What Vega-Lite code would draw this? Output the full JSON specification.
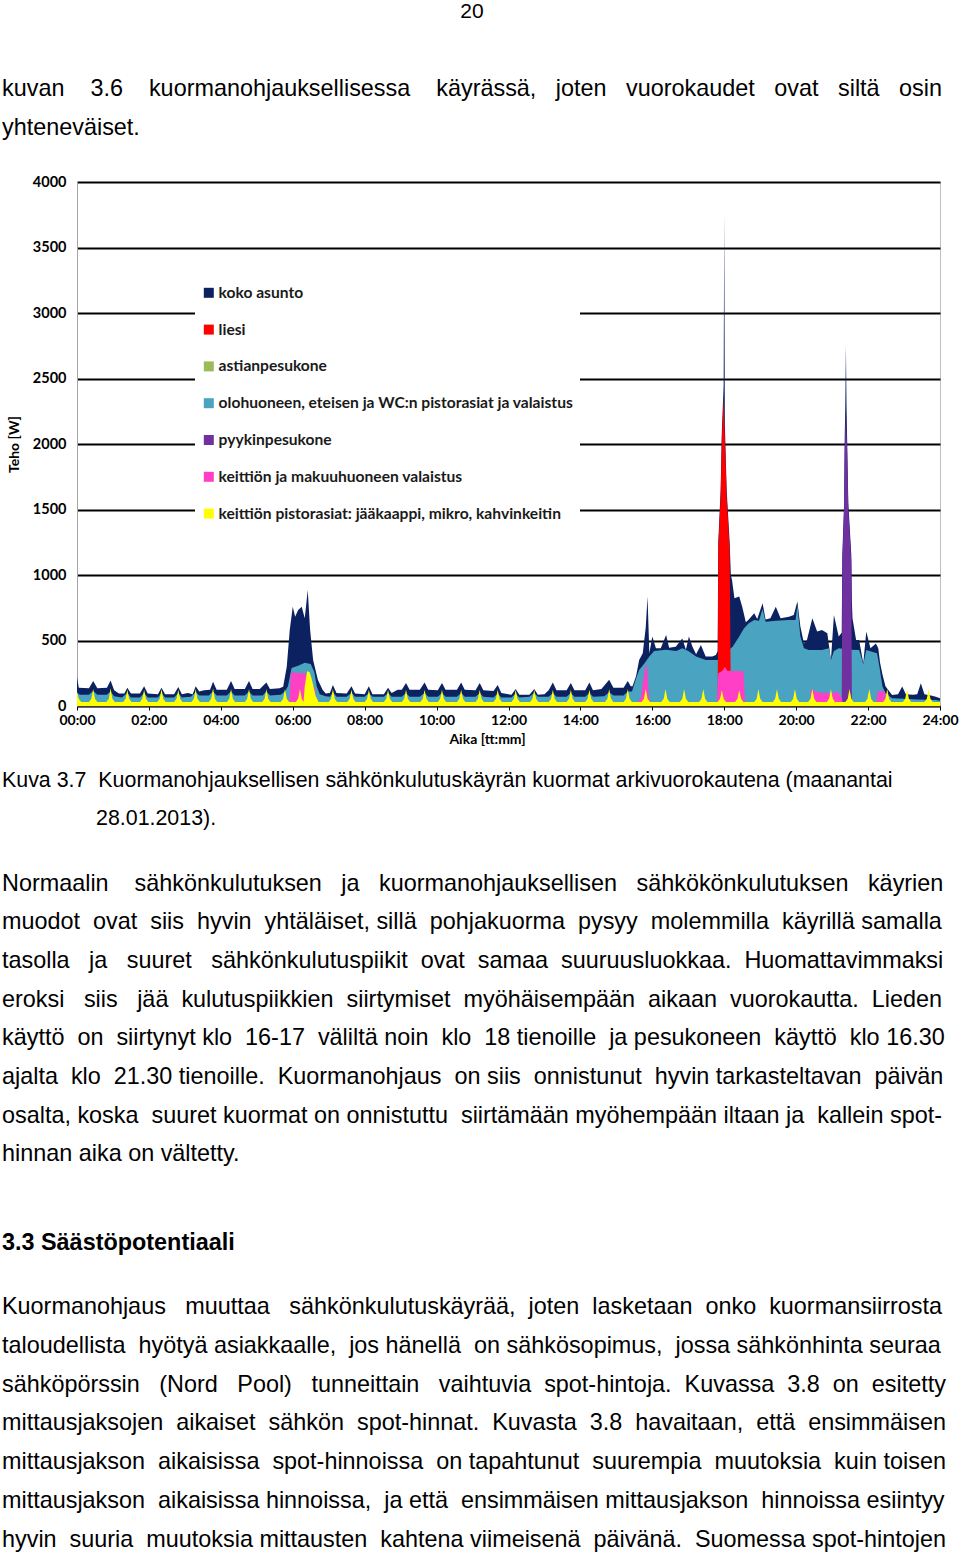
{
  "$schema": "https://vega.github.io/schema/vega-lite/v6.json",
  "padding": {"left": 2, "top": 0, "right": 0, "bottom": 0},
  "spacing": 0,
  "background": "white",
  "config": {"view": {"stroke": null}, "font": "Liberation Sans"},
  "datasets": {
    "toptext": [
      {"line": 0, "role": "page", "text": "20"},
      {"line": 2, "role": "body", "text": "kuvan \u00a0\u00a0\u00a03.6 \u00a0\u00a0\u00a0kuormanohjauksellisessa \u00a0\u00a0\u00a0käyrässä, \u00a0\u00a0joten \u00a0\u00a0vuorokaudet \u00a0\u00a0ovat \u00a0\u00a0siltä \u00a0\u00a0osin"},
      {"line": 3, "role": "body", "text": "yhteneväiset."}
    ],
    "bottomtext": [
      {"line": 0, "role": "caption", "text": "Kuva 3.7\u00a0 Kuormanohjauksellisen sähkönkulutuskäyrän kuormat arkivuorokautena (maanantai"},
      {"line": 0.98, "role": "caption2", "text": "28.01.2013)."},
      {"line": 2.65, "role": "body", "text": "Normaalin \u00a0\u00a0\u00a0sähkönkulutuksen \u00a0\u00a0ja \u00a0\u00a0kuormanohjauksellisen \u00a0\u00a0sähkökönkulutuksen \u00a0\u00a0käyrien"},
      {"line": 3.65, "role": "body", "text": "muodot \u00a0ovat \u00a0siis \u00a0hyvin \u00a0yhtäläiset, sillä \u00a0pohjakuorma \u00a0pysyy \u00a0molemmilla \u00a0käyrillä samalla"},
      {"line": 4.65, "role": "body", "text": "tasolla \u00a0\u00a0ja \u00a0\u00a0suuret \u00a0\u00a0sähkönkulutuspiikit \u00a0ovat \u00a0samaa \u00a0suuruusluokkaa. \u00a0Huomattavimmaksi"},
      {"line": 5.65, "role": "body", "text": "eroksi \u00a0\u00a0siis \u00a0\u00a0jää \u00a0kulutuspiikkien \u00a0siirtymiset \u00a0myöhäisempään \u00a0aikaan \u00a0vuorokautta. \u00a0Lieden"},
      {"line": 6.65, "role": "body", "text": "käyttö \u00a0on \u00a0siirtynyt klo \u00a016-17 \u00a0väliltä noin \u00a0klo \u00a018 tienoille \u00a0ja pesukoneen \u00a0käyttö \u00a0klo 16.30"},
      {"line": 7.65, "role": "body", "text": "ajalta \u00a0klo \u00a021.30 tienoille. \u00a0Kuormanohjaus \u00a0on siis \u00a0onnistunut \u00a0hyvin tarkasteltavan \u00a0päivän"},
      {"line": 8.65, "role": "body", "text": "osalta, koska \u00a0suuret kuormat on onnistuttu \u00a0siirtämään myöhempään iltaan ja \u00a0kallein spot-"},
      {"line": 9.65, "role": "body", "text": "hinnan aika on vältetty."},
      {"line": 11.95, "role": "heading", "text": "3.3 Säästöpotentiaali"},
      {"line": 13.6, "role": "body", "text": "Kuormanohjaus \u00a0\u00a0muuttaa \u00a0\u00a0sähkönkulutuskäyrää, \u00a0joten \u00a0lasketaan \u00a0onko \u00a0kuormansiirrosta"},
      {"line": 14.6, "role": "body", "text": "taloudellista \u00a0hyötyä asiakkaalle, \u00a0jos hänellä \u00a0on sähkösopimus, \u00a0jossa sähkönhinta seuraa"},
      {"line": 15.6, "role": "body", "text": "sähköpörssin \u00a0\u00a0(Nord \u00a0\u00a0Pool) \u00a0\u00a0tunneittain \u00a0\u00a0vaihtuvia \u00a0spot-hintoja. \u00a0Kuvassa \u00a03.8 \u00a0on \u00a0esitetty"},
      {"line": 16.6, "role": "body", "text": "mittausjaksojen \u00a0aikaiset \u00a0sähkön \u00a0spot-hinnat. \u00a0Kuvasta \u00a03.8 \u00a0havaitaan, \u00a0että \u00a0ensimmäisen"},
      {"line": 17.6, "role": "body", "text": "mittausjakson \u00a0aikaisissa \u00a0spot-hinnoissa \u00a0on tapahtunut \u00a0suurempia \u00a0muutoksia \u00a0kuin toisen"},
      {"line": 18.6, "role": "body", "text": "mittausjakson \u00a0aikaisissa hinnoissa, \u00a0ja että \u00a0ensimmäisen mittausjakson \u00a0hinnoissa esiintyy"},
      {"line": 19.6, "role": "body", "text": "hyvin \u00a0suuria \u00a0muutoksia mittausten \u00a0kahtena viimeisenä \u00a0päivänä. \u00a0Suomessa spot-hintojen"}
    ],
    "koko": [
      {"m":0,"w":220},{"m":3,"w":140},{"m":20,"w":135},{"m":27,"w":190},{"m":34,"w":135},{"m":50,"w":140},{"m":56,"w":195},{"m":62,"w":120},{"m":70,"w":95},{"m":79,"w":95},{"m":84,"w":140},{"m":90,"w":95},{"m":105,"w":95},{"m":112,"w":150},{"m":118,"w":95},{"m":135,"w":90},{"m":141,"w":140},{"m":147,"w":90},{"m":162,"w":90},{"m":169,"w":145},{"m":175,"w":90},{"m":185,"w":100},{"m":193,"w":90},{"m":198,"w":150},{"m":204,"w":110},{"m":212,"w":120},{"m":222,"w":125},{"m":227,"w":185},{"m":233,"w":125},{"m":250,"w":125},{"m":257,"w":190},{"m":263,"w":130},{"m":280,"w":130},{"m":287,"w":190},{"m":293,"w":130},{"m":305,"w":130},{"m":316,"w":180},{"m":322,"w":130},{"m":338,"w":135},{"m":344,"w":147},{"m":350,"w":300},{"m":355,"w":580},{"m":360,"w":758},{"m":364,"w":682},{"m":369,"w":733},{"m":375,"w":758},{"m":380,"w":670},{"m":385,"w":885},{"m":389,"w":580},{"m":394,"w":351},{"m":402,"w":198},{"m":410,"w":122},{"m":415,"w":95},{"m":422,"w":100},{"m":427,"w":160},{"m":433,"w":100},{"m":450,"w":95},{"m":458,"w":150},{"m":464,"w":95},{"m":480,"w":90},{"m":487,"w":150},{"m":493,"w":90},{"m":512,"w":90},{"m":519,"w":140},{"m":525,"w":100},{"m":535,"w":125},{"m":542,"w":125},{"m":549,"w":175},{"m":555,"w":125},{"m":572,"w":125},{"m":580,"w":180},{"m":586,"w":125},{"m":602,"w":120},{"m":609,"w":175},{"m":615,"w":125},{"m":634,"w":125},{"m":641,"w":180},{"m":647,"w":125},{"m":665,"w":120},{"m":672,"w":175},{"m":678,"w":120},{"m":695,"w":115},{"m":702,"w":160},{"m":708,"w":100},{"m":725,"w":85},{"m":732,"w":130},{"m":738,"w":85},{"m":755,"w":85},{"m":763,"w":130},{"m":769,"w":85},{"m":780,"w":90},{"m":787,"w":120},{"m":794,"w":180},{"m":800,"w":120},{"m":817,"w":120},{"m":824,"w":175},{"m":830,"w":120},{"m":848,"w":120},{"m":855,"w":180},{"m":861,"w":120},{"m":875,"w":130},{"m":888,"w":200},{"m":895,"w":140},{"m":912,"w":140},{"m":919,"w":190},{"m":924,"w":150},{"m":927,"w":150},{"m":933,"w":230},{"m":938,"w":351},{"m":944,"w":402},{"m":949,"w":600},{"m":952,"w":835},{"m":955,"w":402},{"m":960,"w":530},{"m":966,"w":440},{"m":974,"w":440},{"m":983,"w":542},{"m":988,"w":445},{"m":999,"w":453},{"m":1010,"w":516},{"m":1016,"w":430},{"m":1021,"w":530},{"m":1027,"w":453},{"m":1033,"w":395},{"m":1041,"w":466},{"m":1049,"w":377},{"m":1060,"w":377},{"m":1066,"w":389},{"m":1069,"w":420},{"m":1070,"w":1250},{"m":1074,"w":1650},{"m":1076,"w":2100},{"m":1079,"w":2450},{"m":1080,"w":3760},{"m":1081,"w":2150},{"m":1084,"w":1650},{"m":1089,"w":1250},{"m":1091,"w":1000},{"m":1093,"w":960},{"m":1097,"w":822},{"m":1105,"w":835},{"m":1110,"w":758},{"m":1116,"w":640},{"m":1121,"w":660},{"m":1130,"w":708},{"m":1135,"w":665},{"m":1144,"w":784},{"m":1149,"w":660},{"m":1157,"w":670},{"m":1166,"w":758},{"m":1174,"w":670},{"m":1188,"w":682},{"m":1196,"w":695},{"m":1202,"w":797},{"m":1207,"w":606},{"m":1213,"w":478},{"m":1218,"w":504},{"m":1227,"w":670},{"m":1235,"w":568},{"m":1243,"w":580},{"m":1252,"w":555},{"m":1255,"w":453},{"m":1258,"w":351},{"m":1263,"w":695},{"m":1271,"w":530},{"m":1276,"w":560},{"m":1277,"w":1150},{"m":1280,"w":1550},{"m":1281,"w":2050},{"m":1282,"w":2300},{"m":1283,"w":2750},{"m":1284,"w":2300},{"m":1285,"w":2050},{"m":1287,"w":1550},{"m":1292,"w":1150},{"m":1293,"w":800},{"m":1294,"w":670},{"m":1300,"w":504},{"m":1305,"w":504},{"m":1312,"w":326},{"m":1317,"w":568},{"m":1324,"w":440},{"m":1333,"w":478},{"m":1337,"w":440},{"m":1340,"w":330},{"m":1344,"w":240},{"m":1349,"w":150},{"m":1360,"w":84},{"m":1370,"w":90},{"m":1377,"w":148},{"m":1383,"w":90},{"m":1395,"w":85},{"m":1402,"w":90},{"m":1408,"w":173},{"m":1414,"w":90},{"m":1425,"w":80},{"m":1433,"w":71},{"m":1440,"w":60}
    ],
    "olohuone": [
      {"m":0,"w":100},{"m":5,"w":85},{"m":20,"w":85},{"m":27,"w":115},{"m":34,"w":85},{"m":50,"w":85},{"m":56,"w":110},{"m":62,"w":75},{"m":75,"w":65},{"m":84,"w":100},{"m":90,"w":65},{"m":105,"w":65},{"m":112,"w":100},{"m":118,"w":65},{"m":135,"w":65},{"m":141,"w":100},{"m":147,"w":65},{"m":162,"w":65},{"m":169,"w":100},{"m":175,"w":65},{"m":190,"w":70},{"m":198,"w":105},{"m":204,"w":80},{"m":220,"w":80},{"m":227,"w":110},{"m":233,"w":80},{"m":250,"w":80},{"m":257,"w":110},{"m":263,"w":80},{"m":280,"w":80},{"m":287,"w":110},{"m":293,"w":80},{"m":310,"w":80},{"m":316,"w":110},{"m":322,"w":80},{"m":340,"w":85},{"m":347,"w":110},{"m":352,"w":150},{"m":358,"w":290},{"m":370,"w":310},{"m":380,"w":330},{"m":390,"w":320},{"m":396,"w":260},{"m":400,"w":150},{"m":405,"w":90},{"m":415,"w":75},{"m":422,"w":70},{"m":427,"w":105},{"m":433,"w":70},{"m":450,"w":70},{"m":458,"w":100},{"m":464,"w":70},{"m":480,"w":70},{"m":487,"w":100},{"m":493,"w":70},{"m":512,"w":70},{"m":519,"w":100},{"m":525,"w":70},{"m":542,"w":70},{"m":549,"w":100},{"m":555,"w":70},{"m":572,"w":70},{"m":580,"w":100},{"m":586,"w":70},{"m":602,"w":70},{"m":609,"w":100},{"m":615,"w":70},{"m":634,"w":70},{"m":641,"w":100},{"m":647,"w":70},{"m":665,"w":70},{"m":672,"w":100},{"m":678,"w":70},{"m":695,"w":65},{"m":702,"w":95},{"m":708,"w":65},{"m":725,"w":65},{"m":732,"w":95},{"m":738,"w":65},{"m":755,"w":70},{"m":763,"w":100},{"m":769,"w":70},{"m":787,"w":70},{"m":794,"w":100},{"m":800,"w":70},{"m":817,"w":70},{"m":824,"w":100},{"m":830,"w":70},{"m":848,"w":70},{"m":855,"w":100},{"m":861,"w":70},{"m":880,"w":75},{"m":888,"w":105},{"m":895,"w":80},{"m":912,"w":80},{"m":919,"w":110},{"m":926,"w":110},{"m":933,"w":211},{"m":938,"w":275},{"m":947,"w":326},{"m":955,"w":377},{"m":963,"w":420},{"m":975,"w":425},{"m":983,"w":430},{"m":1000,"w":420},{"m":1010,"w":440},{"m":1020,"w":420},{"m":1033,"w":377},{"m":1049,"w":351},{"m":1069,"w":351},{"m":1080,"w":400},{"m":1094,"w":453},{"m":1105,"w":530},{"m":1113,"w":593},{"m":1121,"w":631},{"m":1130,"w":657},{"m":1138,"w":650},{"m":1144,"w":740},{"m":1149,"w":644},{"m":1166,"w":650},{"m":1188,"w":657},{"m":1199,"w":657},{"m":1202,"w":770},{"m":1207,"w":530},{"m":1213,"w":440},{"m":1221,"w":428},{"m":1243,"w":428},{"m":1255,"w":440},{"m":1258,"w":351},{"m":1263,"w":420},{"m":1271,"w":440},{"m":1290,"w":430},{"m":1305,"w":428},{"m":1312,"w":320},{"m":1317,"w":428},{"m":1335,"w":402},{"m":1339,"w":300},{"m":1341,"w":236},{"m":1344,"w":148},{"m":1349,"w":97},{"m":1360,"w":59},{"m":1380,"w":55},{"m":1400,"w":50},{"m":1433,"w":46},{"m":1440,"w":40}
    ],
    "liesi": [
      {"m":1069,"w":0},{"m":1070,"w":1200},{"m":1074,"w":1600},{"m":1076,"w":2050},{"m":1079,"w":2350},{"m":1081,"w":2050},{"m":1084,"w":1600},{"m":1089,"w":1200},{"m":1091,"w":0}
    ],
    "pyykki": [
      {"m":1276,"w":0},{"m":1277,"w":1100},{"m":1280,"w":1500},{"m":1281,"w":1950},{"m":1283,"w":2250},{"m":1285,"w":1950},{"m":1287,"w":1500},{"m":1292,"w":1100},{"m":1293,"w":0}
    ],
    "valaistus": [
      {"m":354,"w":0},{"m":357,"w":255},{"m":381,"w":250},{"m":392,"w":150},{"m":397,"w":140},{"m":400,"w":0},
      {"m":933,"w":0},{"m":941,"w":70},{"m":948,"w":300},{"m":951,"w":320},{"m":954,"w":80},{"m":958,"w":0},
      {"m":1067,"w":0},{"m":1070,"w":250},{"m":1077,"w":270},{"m":1081,"w":300},{"m":1085,"w":270},{"m":1112,"w":265},{"m":1115,"w":0},
      {"m":1222,"w":0},{"m":1225,"w":130},{"m":1232,"w":110},{"m":1245,"w":100},{"m":1262,"w":100},{"m":1270,"w":110},{"m":1276,"w":60},{"m":1279,"w":0},
      {"m":1333,"w":0},{"m":1336,"w":110},{"m":1348,"w":115},{"m":1351,"w":0}
    ],
    "pistorasiat": [
      {"m":0,"w":110},{"m":3,"w":55},{"m":7,"w":30},
      {"m":20,"w":30},{"m":24,"w":55},{"m":27,"w":130},{"m":30,"w":55},{"m":34,"w":30},
      {"m":49,"w":30},{"m":53,"w":55},{"m":56,"w":135},{"m":59,"w":55},{"m":63,"w":30},
      {"m":77,"w":30},{"m":81,"w":55},{"m":84,"w":125},{"m":87,"w":55},{"m":91,"w":30},
      {"m":105,"w":30},{"m":109,"w":55},{"m":112,"w":125},{"m":115,"w":55},{"m":119,"w":30},
      {"m":134,"w":30},{"m":138,"w":55},{"m":141,"w":130},{"m":144,"w":55},{"m":148,"w":30},
      {"m":162,"w":30},{"m":166,"w":55},{"m":169,"w":125},{"m":172,"w":55},{"m":176,"w":30},
      {"m":191,"w":30},{"m":195,"w":55},{"m":198,"w":130},{"m":201,"w":55},{"m":205,"w":30},
      {"m":220,"w":30},{"m":224,"w":55},{"m":227,"w":135},{"m":230,"w":55},{"m":234,"w":30},
      {"m":250,"w":30},{"m":254,"w":55},{"m":257,"w":130},{"m":260,"w":55},{"m":264,"w":30},
      {"m":280,"w":30},{"m":284,"w":55},{"m":287,"w":130},{"m":290,"w":55},{"m":294,"w":30},
      {"m":309,"w":30},{"m":313,"w":55},{"m":316,"w":130},{"m":319,"w":55},{"m":323,"w":30},
      {"m":340,"w":30},{"m":344,"w":55},{"m":347,"w":130},{"m":350,"w":55},{"m":354,"w":30},
      {"m":365,"w":30},{"m":369,"w":55},{"m":372,"w":130},{"m":375,"w":55},{"m":378,"w":30},
      {"m":380,"w":150},{"m":384,"w":265},{"m":388,"w":260},{"m":392,"w":200},{"m":398,"w":80},{"m":403,"w":30},
      {"m":420,"w":30},{"m":424,"w":55},{"m":427,"w":130},{"m":430,"w":55},{"m":434,"w":30},
      {"m":451,"w":30},{"m":455,"w":55},{"m":458,"w":125},{"m":461,"w":55},{"m":465,"w":30},
      {"m":480,"w":30},{"m":484,"w":55},{"m":487,"w":125},{"m":490,"w":55},{"m":494,"w":30},
      {"m":512,"w":30},{"m":516,"w":55},{"m":519,"w":125},{"m":522,"w":55},{"m":526,"w":30},
      {"m":542,"w":30},{"m":546,"w":55},{"m":549,"w":125},{"m":552,"w":55},{"m":556,"w":30},
      {"m":573,"w":30},{"m":577,"w":55},{"m":580,"w":125},{"m":583,"w":55},{"m":587,"w":30},
      {"m":602,"w":30},{"m":606,"w":55},{"m":609,"w":125},{"m":612,"w":55},{"m":616,"w":30},
      {"m":634,"w":30},{"m":638,"w":55},{"m":641,"w":125},{"m":644,"w":55},{"m":648,"w":30},
      {"m":665,"w":30},{"m":669,"w":55},{"m":672,"w":125},{"m":675,"w":55},{"m":679,"w":30},
      {"m":695,"w":30},{"m":699,"w":55},{"m":702,"w":125},{"m":705,"w":55},{"m":709,"w":30},
      {"m":725,"w":30},{"m":729,"w":55},{"m":732,"w":125},{"m":735,"w":55},{"m":739,"w":30},
      {"m":756,"w":30},{"m":760,"w":55},{"m":763,"w":125},{"m":766,"w":55},{"m":770,"w":30},
      {"m":787,"w":30},{"m":791,"w":55},{"m":794,"w":125},{"m":797,"w":55},{"m":801,"w":30},
      {"m":817,"w":30},{"m":821,"w":55},{"m":824,"w":125},{"m":827,"w":55},{"m":831,"w":30},
      {"m":848,"w":30},{"m":852,"w":55},{"m":855,"w":125},{"m":858,"w":55},{"m":862,"w":30},
      {"m":881,"w":30},{"m":885,"w":55},{"m":888,"w":130},{"m":891,"w":55},{"m":895,"w":30},
      {"m":912,"w":30},{"m":916,"w":55},{"m":919,"w":130},{"m":922,"w":55},{"m":926,"w":30},
      {"m":942,"w":30},{"m":946,"w":55},{"m":949,"w":130},{"m":952,"w":55},{"m":956,"w":30},
      {"m":975,"w":30},{"m":979,"w":55},{"m":982,"w":130},{"m":985,"w":55},{"m":989,"w":30},
      {"m":1006,"w":30},{"m":1010,"w":55},{"m":1013,"w":130},{"m":1016,"w":55},{"m":1020,"w":30},
      {"m":1038,"w":30},{"m":1042,"w":55},{"m":1045,"w":130},{"m":1048,"w":55},{"m":1052,"w":30},
      {"m":1069,"w":30},{"m":1073,"w":55},{"m":1076,"w":120},{"m":1079,"w":55},{"m":1083,"w":30},
      {"m":1098,"w":30},{"m":1102,"w":55},{"m":1105,"w":120},{"m":1108,"w":55},{"m":1112,"w":30},
      {"m":1130,"w":30},{"m":1134,"w":55},{"m":1137,"w":130},{"m":1140,"w":55},{"m":1144,"w":30},
      {"m":1161,"w":30},{"m":1165,"w":55},{"m":1168,"w":130},{"m":1171,"w":55},{"m":1175,"w":30},
      {"m":1191,"w":30},{"m":1195,"w":55},{"m":1198,"w":130},{"m":1201,"w":55},{"m":1205,"w":30},
      {"m":1220,"w":30},{"m":1224,"w":55},{"m":1227,"w":130},{"m":1230,"w":55},{"m":1234,"w":30},
      {"m":1251,"w":30},{"m":1255,"w":55},{"m":1258,"w":130},{"m":1261,"w":55},{"m":1265,"w":30},
      {"m":1282,"w":30},{"m":1286,"w":55},{"m":1289,"w":130},{"m":1292,"w":55},{"m":1296,"w":30},
      {"m":1315,"w":30},{"m":1319,"w":55},{"m":1322,"w":130},{"m":1325,"w":55},{"m":1329,"w":30},
      {"m":1345,"w":30},{"m":1349,"w":55},{"m":1352,"w":130},{"m":1355,"w":55},{"m":1359,"w":30},
      {"m":1378,"w":30},{"m":1382,"w":55},{"m":1385,"w":130},{"m":1388,"w":55},{"m":1392,"w":30},
      {"m":1414,"w":30},{"m":1418,"w":55},{"m":1421,"w":130},{"m":1424,"w":55},{"m":1428,"w":30},
      {"m":1440,"w":30}
    ]
  },
  "vconcat": [
    {
      "width": 960,
      "height": 171,
      "data": {"name": "toptext"},
      "encoding": {
        "y": {"field": "line", "type": "quantitative", "scale": {"domain": [-0.258, 4.16], "reverse": true, "nice": false, "zero": false}, "axis": null}
      },
      "layer": [
        {
          "transform": [{"filter": "datum.role == 'page'"}],
          "mark": {"type": "text", "align": "center", "baseline": "middle", "font": "Liberation Sans", "fontSize": 21, "color": "#000"},
          "encoding": {
            "x": {"datum": 472, "type": "quantitative", "scale": {"domain": [0, 960], "range": [-77, 883], "nice": false, "zero": false}, "axis": null},
            "text": {"field": "text"}
          }
        },
        {
          "transform": [{"filter": "datum.role == 'body'"}],
          "mark": {"type": "text", "align": "left", "baseline": "middle", "font": "Liberation Sans", "fontSize": 23.4, "color": "#000"},
          "encoding": {
            "x": {"datum": 2, "type": "quantitative"},
            "text": {"field": "text"}
          }
        }
      ]
    },
    {
      "width": 863,
      "height": 524,
      "view": {"stroke": "#bfbfbf", "strokeWidth": 1},
      "layer": [
        {
          "data": {"name": "koko"},
          "mark": {"type": "area", "opacity": 1, "interpolate": "linear"},
          "encoding": {
            "x": {"field": "m", "type": "quantitative", "scale": {"domain": [0, 1440], "nice": false, "zero": false},
              "axis": {"values": [0,60,120,180,240,300,360,420,480,540,600,660,720,780,840,900,960,1020,1080,1140,1200,1260,1320,1380,1440],
                "labelExpr": "datum.value % 120 == 0 ? (datum.value < 600 ? '0' : '') + (datum.value / 60) + ':00' : ''",
                "labelOverlap": false, "labelFlush": false, "grid": false,
                "tickColor": "#000", "tickSize": 4, "tickWidth": 1,
                "domainColor": "#3c3c3c", "domainWidth": 1.5,
                "labelFont": "Lato", "labelFontWeight": "bold", "labelFontSize": 14, "labelColor": "#000", "labelPadding": 3,
                "title": "Aika [tt:mm]", "titleFont": "Lato", "titleFontSize": 14, "titleFontWeight": "bold", "titleColor": "#000", "titlePadding": 5, "titleX": 410}},
            "y": {"field": "w", "type": "quantitative", "stack": null, "scale": {"domain": [0, 4000], "nice": false},
              "axis": {"values": [0,500,1000,1500,2000,2500,3000,3500,4000], "format": "d",
                "grid": true, "gridColor": "#000", "gridWidth": 2, "ticks": false,
                "domainColor": "#a6a6a6", "labelFlush": false,
                "labelFont": "Lato", "labelFontWeight": "bold", "labelFontSize": 14.5, "labelColor": "#000", "labelPadding": 11,
                "minExtent": 46, "maxExtent": 46,
                "title": "Teho [W]", "titleFont": "Lato", "titleFontSize": 14, "titleFontWeight": "bold", "titleColor": "#000", "titlePadding": 10}},
            "color": {"datum": "koko asunto", "type": "nominal",
              "scale": {"domain": ["koko asunto", "liesi", "astianpesukone", "olohuoneen, eteisen ja WC:n pistorasiat ja valaistus", "pyykinpesukone", "keittiön ja makuuhuoneen valaistus", "keittiön pistorasiat: jääkaappi, mikro, kahvinkeitin"],
                "range": ["#0c2160", "#ff0000", "#9bbb59", "#4aa3c0", "#7030a0", "#ff3fc6", "#ffff00"]},
              "legend": {"orient": "none", "legendX": 118, "legendY": 277, "title": null, "symbolType": "square", "symbolSize": 100, "symbolStrokeWidth": 0,
                "labelFont": "Lato", "labelFontWeight": "bold", "labelFontSize": 15.6, "labelColor": "#1a1a1a", "labelLimit": 0, "labelOffset": 2,
                "rowPadding": 19.8, "padding": 6, "fillColor": "white", "direction": "vertical"}}
          }
        },
        {
          "data": {"name": "olohuone"},
          "mark": {"type": "area", "opacity": 1, "interpolate": "linear"},
          "encoding": {
            "x": {"field": "m", "type": "quantitative"},
            "y": {"field": "w", "type": "quantitative", "stack": null},
            "color": {"datum": "olohuoneen, eteisen ja WC:n pistorasiat ja valaistus", "type": "nominal"}
          }
        },
        {
          "data": {"name": "liesi"},
          "mark": {"type": "area", "opacity": 1, "interpolate": "linear"},
          "encoding": {
            "x": {"field": "m", "type": "quantitative"},
            "y": {"field": "w", "type": "quantitative", "stack": null},
            "color": {"datum": "liesi", "type": "nominal"}
          }
        },
        {
          "data": {"name": "pyykki"},
          "mark": {"type": "area", "opacity": 1, "interpolate": "linear"},
          "encoding": {
            "x": {"field": "m", "type": "quantitative"},
            "y": {"field": "w", "type": "quantitative", "stack": null},
            "color": {"datum": "pyykinpesukone", "type": "nominal"}
          }
        },
        {
          "data": {"name": "valaistus"},
          "mark": {"type": "area", "opacity": 1, "interpolate": "linear"},
          "encoding": {
            "x": {"field": "m", "type": "quantitative"},
            "y": {"field": "w", "type": "quantitative", "stack": null},
            "color": {"datum": "keittiön ja makuuhuoneen valaistus", "type": "nominal"}
          }
        },
        {
          "data": {"name": "pistorasiat"},
          "mark": {"type": "area", "opacity": 1, "interpolate": "linear"},
          "encoding": {
            "x": {"field": "m", "type": "quantitative"},
            "y": {"field": "w", "type": "quantitative", "stack": null},
            "color": {"datum": "keittiön pistorasiat: jääkaappi, mikro, kahvinkeitin", "type": "nominal"}
          }
        }
      ]
    },
    {
      "width": 960,
      "height": 808,
      "data": {"name": "bottomtext"},
      "encoding": {
        "y": {"field": "line", "type": "quantitative", "scale": {"domain": [-0.879, 20.0], "reverse": true, "nice": false, "zero": false}, "axis": null}
      },
      "layer": [
        {
          "transform": [{"filter": "datum.role == 'body'"}],
          "mark": {"type": "text", "align": "left", "baseline": "middle", "font": "Liberation Sans", "fontSize": 23.4, "color": "#000"},
          "encoding": {
            "x": {"datum": 2, "type": "quantitative", "scale": {"domain": [0, 960], "range": [-77, 883], "nice": false, "zero": false}, "axis": null},
            "text": {"field": "text"}
          }
        },
        {
          "transform": [{"filter": "datum.role == 'caption'"}],
          "mark": {"type": "text", "align": "left", "baseline": "middle", "font": "Liberation Sans", "fontSize": 21.4, "color": "#000"},
          "encoding": {
            "x": {"datum": 2, "type": "quantitative"},
            "text": {"field": "text"}
          }
        },
        {
          "transform": [{"filter": "datum.role == 'caption2'"}],
          "mark": {"type": "text", "align": "left", "baseline": "middle", "font": "Liberation Sans", "fontSize": 21.4, "color": "#000"},
          "encoding": {
            "x": {"datum": 96, "type": "quantitative"},
            "text": {"field": "text"}
          }
        },
        {
          "transform": [{"filter": "datum.role == 'heading'"}],
          "mark": {"type": "text", "align": "left", "baseline": "middle", "font": "Liberation Sans", "fontSize": 23.4, "fontWeight": "bold", "color": "#000"},
          "encoding": {
            "x": {"datum": 2, "type": "quantitative"},
            "text": {"field": "text"}
          }
        }
      ]
    }
  ]
}
